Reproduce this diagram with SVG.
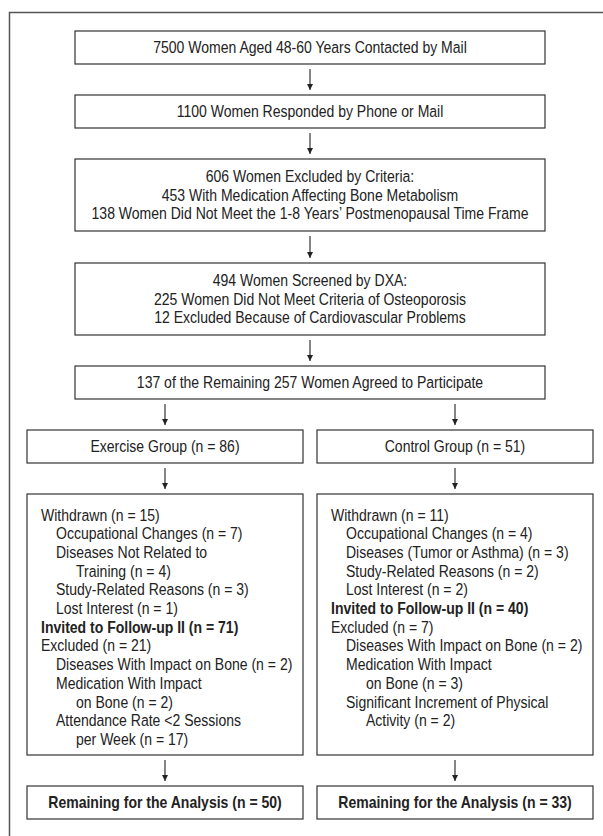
<svg xmlns="http://www.w3.org/2000/svg" width="603" height="836" viewBox="0 0 603 836">
<style>
.frame{fill:none;stroke:#555;stroke-width:1.5}
.box{fill:#fff;stroke:#333;stroke-width:1.2}
text{font-family:"Liberation Sans",Arial,sans-serif;font-size:16.5px;fill:#222}
.c{text-anchor:middle}
.b{font-weight:bold}
.con{stroke:#222;stroke-width:1.1;fill:none}
</style>
<defs>
<marker id="ah" viewBox="0 0 8 8" refX="8" refY="4" markerWidth="6" markerHeight="6" markerUnits="userSpaceOnUse" orient="auto">
<path d="M0,0 L8,4 L0,8 z" fill="#222"/>
</marker>
</defs>
<rect class="frame" x="9.5" y="12.5" width="620" height="850"/>
<g id="connectors">
<line class="con" x1="310" y1="69" x2="310" y2="90" marker-end="url(#ah)"/>
<line class="con" x1="310" y1="133" x2="310" y2="154" marker-end="url(#ah)"/>
<line class="con" x1="310" y1="236" x2="310" y2="258" marker-end="url(#ah)"/>
<line class="con" x1="310" y1="340" x2="310" y2="361" marker-end="url(#ah)"/>
<line class="con" x1="165" y1="404" x2="165" y2="425" marker-end="url(#ah)"/>
<line class="con" x1="455" y1="404" x2="455" y2="425" marker-end="url(#ah)"/>
<line class="con" x1="165" y1="468" x2="165" y2="489" marker-end="url(#ah)"/>
<line class="con" x1="455" y1="468" x2="455" y2="489" marker-end="url(#ah)"/>
<line class="con" x1="165" y1="760" x2="165" y2="781" marker-end="url(#ah)"/>
<line class="con" x1="455" y1="760" x2="455" y2="781" marker-end="url(#ah)"/>
</g>
<g id="n1">
<rect class="box" x="75" y="31" width="470" height="33"/>
<text class="c" transform="translate(310,53) scale(0.85,1)">7500 Women Aged 48-60 Years Contacted by Mail</text>
</g>
<g id="n2">
<rect class="box" x="75" y="95" width="470" height="33"/>
<text class="c" transform="translate(310,117) scale(0.85,1)">1100 Women Responded by Phone or Mail</text>
</g>
<g id="n3">
<rect class="box" x="75" y="159" width="470" height="72"/>
<text class="c" transform="translate(310,182) scale(0.85,1)">606 Women Excluded by Criteria:</text>
<text class="c" transform="translate(310,200.5) scale(0.85,1)">453 With Medication Affecting Bone Metabolism</text>
<text class="c" transform="translate(310,219) scale(0.85,1)">138 Women Did Not Meet the 1-8 Years’ Postmenopausal Time Frame</text>
</g>
<g id="n4">
<rect class="box" x="75" y="263" width="470" height="72"/>
<text class="c" transform="translate(310,286) scale(0.85,1)">494 Women Screened by DXA:</text>
<text class="c" transform="translate(310,304.5) scale(0.85,1)">225 Women Did Not Meet Criteria of Osteoporosis</text>
<text class="c" transform="translate(310,323) scale(0.85,1)">12 Excluded Because of Cardiovascular Problems</text>
</g>
<g id="n5">
<rect class="box" x="75" y="366" width="470" height="33"/>
<text class="c" transform="translate(310,388) scale(0.85,1)">137 of the Remaining 257 Women Agreed to Participate</text>
</g>
<g id="exercise">
<rect class="box" x="27" y="430" width="276" height="33"/>
<text class="c" transform="translate(165,452) scale(0.85,1)">Exercise Group (n = 86)</text>
</g>
<g id="control">
<rect class="box" x="317" y="430" width="276" height="33"/>
<text class="c" transform="translate(455,452) scale(0.85,1)">Control Group (n = 51)</text>
</g>
<g id="exercise-details">
<rect class="box" x="27" y="494" width="276" height="261"/>
<text transform="translate(41,520.5) scale(0.85,1)">Withdrawn (n = 15)</text>
<text transform="translate(56,539.2) scale(0.85,1)">Occupational Changes (n = 7)</text>
<text transform="translate(56,557.9) scale(0.85,1)">Diseases Not Related to</text>
<text transform="translate(76,576.6) scale(0.85,1)">Training (n = 4)</text>
<text transform="translate(56,595.3) scale(0.85,1)">Study-Related Reasons (n = 3)</text>
<text transform="translate(56,614) scale(0.85,1)">Lost Interest (n = 1)</text>
<text class="b" transform="translate(41,632.7) scale(0.85,1)">Invited to Follow-up II (n = 71)</text>
<text transform="translate(41,651.4) scale(0.85,1)">Excluded (n = 21)</text>
<text transform="translate(56,670.1) scale(0.85,1)">Diseases With Impact on Bone (n = 2)</text>
<text transform="translate(56,688.8) scale(0.85,1)">Medication With Impact</text>
<text transform="translate(76,707.5) scale(0.85,1)">on Bone (n = 2)</text>
<text transform="translate(56,726.2) scale(0.85,1)">Attendance Rate &lt;2 Sessions</text>
<text transform="translate(76,744.9) scale(0.85,1)">per Week (n = 17)</text>
</g>
<g id="control-details">
<rect class="box" x="317" y="494" width="276" height="261"/>
<text transform="translate(331,520.5) scale(0.85,1)">Withdrawn (n = 11)</text>
<text transform="translate(346,539.2) scale(0.85,1)">Occupational Changes (n = 4)</text>
<text transform="translate(346,557.9) scale(0.85,1)">Diseases (Tumor or Asthma) (n = 3)</text>
<text transform="translate(346,576.6) scale(0.85,1)">Study-Related Reasons (n = 2)</text>
<text transform="translate(346,595.3) scale(0.85,1)">Lost Interest (n = 2)</text>
<text class="b" transform="translate(331,614) scale(0.85,1)">Invited to Follow-up II (n = 40)</text>
<text transform="translate(331,632.7) scale(0.85,1)">Excluded (n = 7)</text>
<text transform="translate(346,651.4) scale(0.85,1)">Diseases With Impact on Bone (n = 2)</text>
<text transform="translate(346,670.1) scale(0.85,1)">Medication With Impact</text>
<text transform="translate(366,688.8) scale(0.85,1)">on Bone (n = 3)</text>
<text transform="translate(346,707.5) scale(0.85,1)">Significant Increment of Physical</text>
<text transform="translate(366,726.2) scale(0.85,1)">Activity (n = 2)</text>
</g>
<g id="exercise-result">
<rect class="box" x="27" y="786" width="276" height="33"/>
<text class="c b" transform="translate(165,808) scale(0.85,1)">Remaining for the Analysis (n = 50)</text>
</g>
<g id="control-result">
<rect class="box" x="317" y="786" width="276" height="33"/>
<text class="c b" transform="translate(455,808) scale(0.85,1)">Remaining for the Analysis (n = 33)</text>
</g>
</svg>
